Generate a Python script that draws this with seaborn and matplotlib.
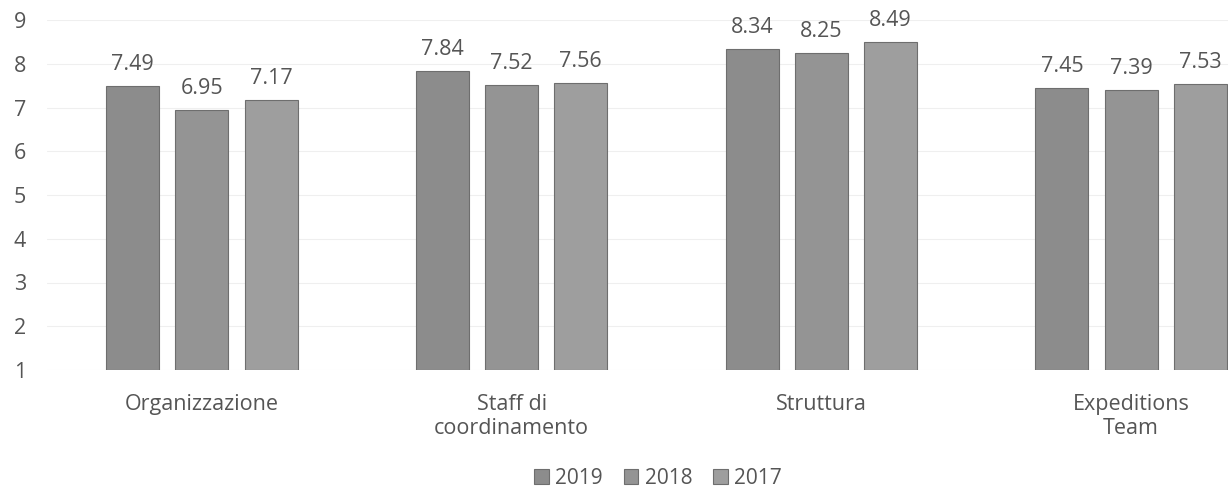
import pandas as pd
import seaborn as sns
import matplotlib.pyplot as plt

categorie = ["Organizzazione", "Staff di\ncoordinamento", "Struttura", "Expeditions\nTeam"]
anni = ["2019", "2018", "2017"]
val_2019 = [7.49, 7.84, 8.34, 7.45]
val_2018 = [6.95, 7.52, 8.25, 7.39]
val_2017 = [7.17, 7.56, 8.49, 7.53]

righe = []
for anno, valori in zip(anni, [val_2019, val_2018, val_2017]):
    for cat, v in zip(categorie, valori):
        righe.append((cat, anno, v))
df = pd.DataFrame(righe, columns=["Categoria", "Anno", "Valore"])

sns.set_style("white")
plt.rcParams["font.family"] = ["Open Sans", "DejaVu Sans"]
testo = "#555555"

fig = plt.figure(figsize=(12.28, 4.93), dpi=100)
ax = fig.add_axes([47 / 1228, 1 - 370 / 493, 1239 / 1228, 350 / 493])

colori = ["#8c8c8c", "#949494", "#9e9e9e"]
sns.barplot(data=df, x="Categoria", y="Valore", hue="Anno", hue_order=anni,
            palette=colori, width=0.67, gap=0.235,
            edgecolor="#6e6e6e", linewidth=0.8, ax=ax, legend=True)

# le barre partono da 1
for patch in ax.patches:
    h = patch.get_height()
    if h > 0:
        patch.set_y(1)
        patch.set_height(h - 1)

for cont in ax.containers:
    vals = [f"{v:.2f}" for v in df[df["Anno"] == cont.get_label()]["Valore"]]
    ax.bar_label(cont, labels=vals, padding=8, fontsize=15.5, color=testo)

ax.set_ylim(1, 9)
ax.set_yticks(range(1, 10))
ax.set_xlim(-0.5, 3.5)
ax.grid(axis="y", color="#efefef", linewidth=0.8)
ax.set_axisbelow(True)
sns.despine(ax=ax, left=True, bottom=True, top=True, right=True)
ax.set_xlabel("")
ax.set_ylabel("")
ax.tick_params(axis="y", length=0, pad=15, labelsize=15.5, labelcolor=testo)
ax.tick_params(axis="x", length=0, pad=17, labelsize=15.5, labelcolor=testo)
for lab in ax.get_xticklabels():
    lab.set_linespacing(1.2)

ax.legend(loc="center", bbox_to_anchor=(658 / 1228, 1 - 478 / 493),
          bbox_transform=fig.transFigure, ncol=3, frameon=False,
          fontsize=15, labelcolor=testo, handlelength=0.7, handleheight=0.7,
          handletextpad=0.3, columnspacing=1.0)

fig.savefig("out.png", dpi=100)
